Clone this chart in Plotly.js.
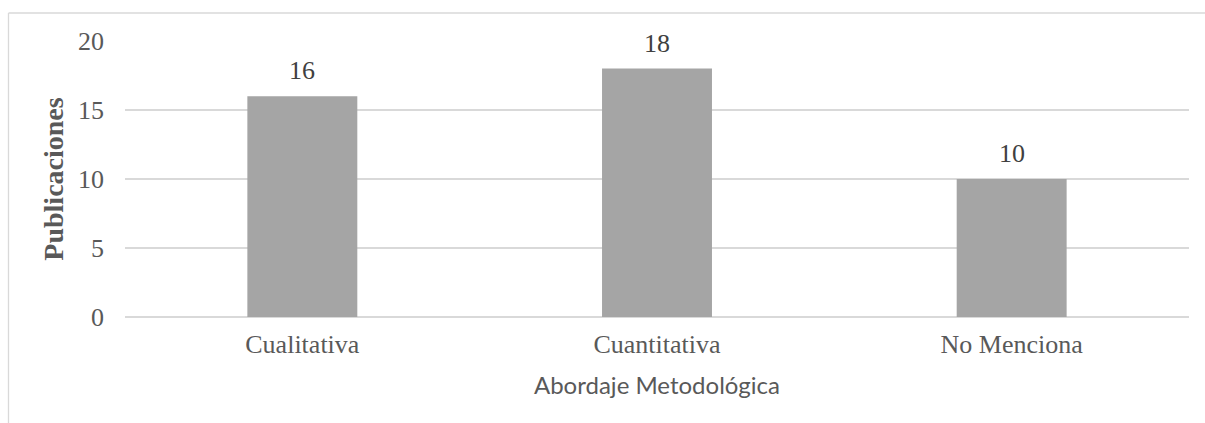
<!DOCTYPE html>
<html>
<head>
<meta charset="utf-8">
<script src="https://cdn.plot.ly/plotly-3.0.1.min.js"></script>
<style>html,body{margin:0;padding:0;background:#fff;}#chart{width:1205px;height:423px;}</style>
</head>
<body>
<div id="chart"></div>
<script>
var categories = ["Cualitativa", "Cuantitativa", "No Menciona"];
var publicaciones = [16, 18, 10];
var yTicks = [0, 5, 10, 15, 20];

var serif = "'Liberation Serif', 'Times New Roman', serif";
var gray = "#595959";

var trace = {
  type: "bar",
  x: categories,
  y: publicaciones,
  marker: {color: "#A5A5A5"},
  hoverinfo: "skip"
};

var annotations = categories.map(function (c, i) {
  return {
    x: c, y: publicaciones[i], xref: "x", yref: "y",
    text: String(publicaciones[i]), showarrow: false,
    yanchor: "bottom", yshift: 9,
    font: {family: serif, size: 26, color: "#404040"}
  };
});

var layout = {
  width: 1205, height: 423,
  margin: {l: 125, r: 16, t: 41, b: 106},
  paper_bgcolor: "#ffffff", plot_bgcolor: "#ffffff",
  bargap: 0.69,
  showlegend: false,
  xaxis: {
    type: "category",
    showgrid: false, zeroline: false, showline: false,
    ticks: "", ticklabelstandoff: 9,
    tickfont: {family: serif, size: 26, color: gray},
    title: {text: "Abordaje Metodológica", standoff: 19,
      font: {family: "Lato, 'Open Sans', sans-serif", size: 24, color: gray}}
  },
  yaxis: {
    range: [0, 20], tickvals: yTicks, ticktext: yTicks.map(String),
    showgrid: true, gridcolor: "#d9d9d9", gridwidth: 1.3,
    zeroline: true, zerolinecolor: "#d9d9d9", zerolinewidth: 1.3,
    showline: false, ticks: "", ticklabelstandoff: 20,
    tickfont: {family: serif, size: 26, color: gray},
    title: {text: "Publicaciones", standoff: 6,
      font: {family: serif, size: 28, color: gray, weight: "bold"}}
  },
  annotations: annotations,
  shapes: [
    {type: "line", xref: "paper", yref: "paper", layer: "below",
     x0: (8.5 - 125) / 1064, x1: (1205 - 125) / 1064,
     y0: 1 + (41 - 13) / 276, y1: 1 + (41 - 13) / 276,
     line: {color: "#d9d9d9", width: 1.3}},
    {type: "line", xref: "paper", yref: "paper", layer: "below",
     x0: (8.5 - 125) / 1064, x1: (8.5 - 125) / 1064,
     y0: 1 + (41 - 13) / 276, y1: -(423 - 317) / 276,
     line: {color: "#d9d9d9", width: 1.3}}
  ]
};

Plotly.newPlot("chart", [trace], layout, {displayModeBar: false, staticPlot: true});
</script>
</body>
</html>
